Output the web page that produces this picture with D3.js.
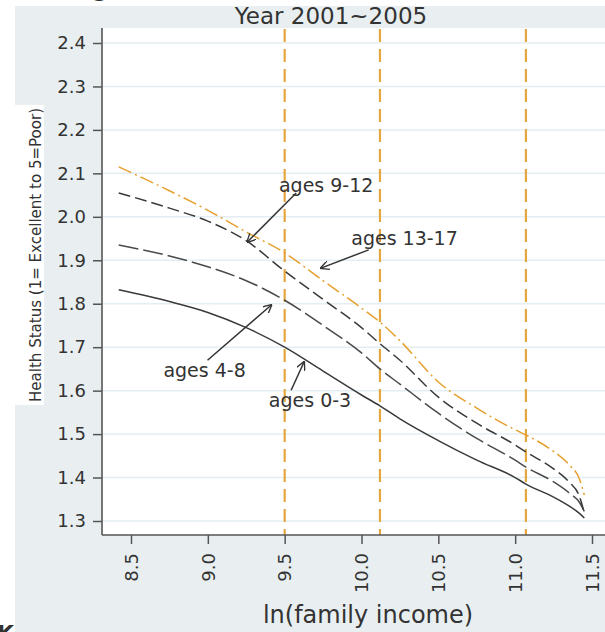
<!DOCTYPE html>
<html>
<head>
<meta charset="utf-8">
<style>
  body { margin: 0; background: #fff; }
  svg { display: block; }
  text { font-family: "DejaVu Sans", Arial, sans-serif; fill: #333; }
</style>
</head>
<body>
<svg id="chart" width="605" height="632"></svg>
<script src="https://d3js.org/d3.v7.min.js"></script>
<script>

// ln(family income) sample points
const income = [8.42, 8.75, 9.0, 9.25, 9.5, 9.75, 10.0, 10.12, 10.25, 10.5, 10.75, 11.0, 11.07, 11.25, 11.35, 11.42, 11.45]

// health status, one per age group
const ages0to3   = [1.832, 1.805, 1.78, 1.745, 1.70, 1.645, 1.59, 1.565, 1.535, 1.485, 1.44, 1.40, 1.385, 1.355, 1.335, 1.317, 1.307]
const ages4to8   = [1.935, 1.91, 1.885, 1.853, 1.808, 1.75, 1.687, 1.65, 1.615, 1.548, 1.49, 1.44, 1.424, 1.39, 1.365, 1.342, 1.322]
const ages9to12  = [2.055, 2.02, 1.99, 1.945, 1.875, 1.81, 1.745, 1.708, 1.67, 1.585, 1.525, 1.475, 1.459, 1.42, 1.39, 1.355, 1.318]
const ages13to17 = [2.115, 2.06, 2.015, 1.965, 1.917, 1.853, 1.79, 1.758, 1.715, 1.62, 1.56, 1.51, 1.498, 1.46, 1.43, 1.395, 1.36]

const cutoffs = [9.5, 10.12, 11.07]
const xTicks = [8.5, 9.0, 9.5, 10.0, 10.5, 11.0, 11.5]
const yTicks = [1.3, 1.4, 1.5, 1.6, 1.7, 1.8, 1.9, 2.0, 2.1, 2.2, 2.3, 2.4]

const labels = [
  { text: 'ages 9-12',  at: [9.77, 2.073],  from: [9.575, 2.055], to: [9.257, 1.942] },
  { text: 'ages 13-17', at: [10.28, 1.951], from: [10.047, 1.924], to: [9.736, 1.882] },
  { text: 'ages 4-8',   at: [8.979, 1.647], from: [8.998, 1.670], to: [9.413, 1.797] },
  { text: 'ages 0-3',   at: [9.665, 1.578], from: [9.542, 1.601], to: [9.626, 1.666] }
]

const series = [
  { values: ages0to3,   color: '#3a3a3a', dash: null },
  { values: ages4to8,   color: '#4a4a4a', dash: '20,5' },
  { values: ages9to12,  color: '#3a3a3a', dash: '12,5' },
  { values: ages13to17, color: '#e5a030', dash: '14,4,2,4' }
]

const svg = d3.select('#chart')

// page + chart background
svg.append('rect').attr('x', 15).attr('y', 6).attr('width', 590).attr('height', 626).attr('fill', '#e9eff1')

const plot = { left: 102, right: 605, top: 28, bottom: 535 }
svg.append('rect')
  .attr('x', plot.left).attr('y', plot.top)
  .attr('width', plot.right - plot.left).attr('height', plot.bottom - plot.top)
  .attr('fill', '#fff')

const x = d3.scaleLinear().domain([8.5, 11.5]).range([131, 592])
const y = d3.scaleLinear().domain([1.3, 2.4]).range([521, 43])

// grid
svg.append('g').selectAll('line')
  .data(yTicks)
  .enter()
  .append('line')
    .attr('x1', plot.left).attr('x2', plot.right)
    .attr('y1', d => y(d)).attr('y2', d => y(d))
    .attr('stroke', '#e4eef2')
    .attr('stroke-width', 1.5)

// income cut-off lines
svg.append('g').selectAll('line')
  .data(cutoffs)
  .enter()
  .append('line')
    .attr('x1', d => x(d)).attr('x2', d => x(d))
    .attr('y1', plot.top + 1).attr('y2', plot.bottom)
    .attr('stroke', '#e4a63e')
    .attr('stroke-width', 2.2)
    .attr('stroke-dasharray', '13,7')

// curves
let line = d3.line()
  .x((d, i) => x(income[i]))
  .y(d => y(d))
  .curve(d3.curveMonotoneX)

svg.append('g').selectAll('path')
  .data(series)
  .enter()
  .append('path')
    .attr('d', d => line(d.values))
    .attr('fill', 'none')
    .attr('stroke', d => d.color)
    .attr('stroke-width', 1.5)
    .attr('stroke-dasharray', d => d.dash)

// axes
let yAxis = svg.append('g')
  .attr('transform', 'translate(' + plot.left + ',0)')
  .call(d3.axisLeft(y).tickValues(yTicks).tickFormat(d3.format('.1f')).tickSize(9).tickPadding(7).tickSizeOuter(0))
yAxis.select('.domain').attr('d', 'M0,' + plot.top + 'V' + plot.bottom)

let xAxis = svg.append('g')
  .attr('transform', 'translate(0,' + plot.bottom + ')')
  .call(d3.axisBottom(x).tickValues(xTicks).tickFormat(d3.format('.1f')).tickSize(9).tickPadding(8).tickSizeOuter(0))
xAxis.select('.domain').attr('d', 'M' + plot.left + ',0H' + plot.right)

svg.selectAll('.domain').attr('stroke', '#555').attr('stroke-width', 1.6)
svg.selectAll('.tick line').attr('stroke', '#555').attr('stroke-width', 1.5)
svg.selectAll('.tick text')
  .style('font-family', '"DejaVu Sans", Arial, sans-serif')
  .style('font-size', '18px')
  .attr('fill', '#333')

xAxis.selectAll('.tick text')
  .attr('transform', 'rotate(-90)')
  .attr('text-anchor', 'end')
  .attr('x', -18)
  .attr('y', 0)
  .attr('dy', '0.35em')

// annotations
svg.append('defs').append('marker')
  .attr('id', 'head')
  .attr('viewBox', '0 0 10 10')
  .attr('refX', 9).attr('refY', 5)
  .attr('markerWidth', 9).attr('markerHeight', 9)
  .attr('markerUnits', 'userSpaceOnUse')
  .attr('orient', 'auto')
  .append('path')
    .attr('d', 'M0,0L10,5L0,10')
    .attr('fill', 'none')
    .attr('stroke', '#333')
    .attr('stroke-width', 1.5)

let notes = svg.append('g')
notes.selectAll('line')
  .data(labels)
  .enter()
  .append('line')
    .attr('x1', d => x(d.from[0])).attr('y1', d => y(d.from[1]))
    .attr('x2', d => x(d.to[0])).attr('y2', d => y(d.to[1]))
    .attr('stroke', '#333')
    .attr('stroke-width', 1.5)
    .attr('marker-end', 'url(#head)')

notes.selectAll('text')
  .data(labels)
  .enter()
  .append('text')
    .attr('x', d => x(d.at[0]))
    .attr('y', d => y(d.at[1]))
    .attr('dy', '0.35em')
    .attr('text-anchor', 'middle')
    .style('font-size', '19px')
    .text(d => d.text)

// titles
svg.append('text')
  .attr('x', 331).attr('y', 24)
  .attr('text-anchor', 'middle')
  .style('font-size', '23px')
  .attr('fill', '#444')
  .text('Year 2001~2005')

svg.append('text')
  .attr('x', 368).attr('y', 623)
  .attr('text-anchor', 'middle')
  .style('font-size', '24px')
  .text('ln(family income)')

svg.append('rect').attr('x', 15).attr('y', 105).attr('width', 29).attr('height', 300).attr('fill', '#fff')
svg.append('text')
  .attr('transform', 'translate(41,255) rotate(-90)')
  .attr('text-anchor', 'middle')
  .attr('textLength', 294)
  .attr('lengthAdjust', 'spacingAndGlyphs')
  .style('font-size', '15px')
  .attr('fill', '#444')
  .text('Health Status (1= Excellent to 5=Poor)')

// bits of surrounding page text cut by the crop
svg.append('text').attr('x', 100).attr('y', -3).attr('text-anchor', 'middle')
  .style('font-size', '22px').style('font-weight', 'bold').attr('fill', '#000').text('g')
svg.append('text').attr('x', -3).attr('y', 641)
  .style('font-size', '22px').style('font-weight', 'bold').attr('fill', '#000').text('K')

</script>
</body>
</html>
